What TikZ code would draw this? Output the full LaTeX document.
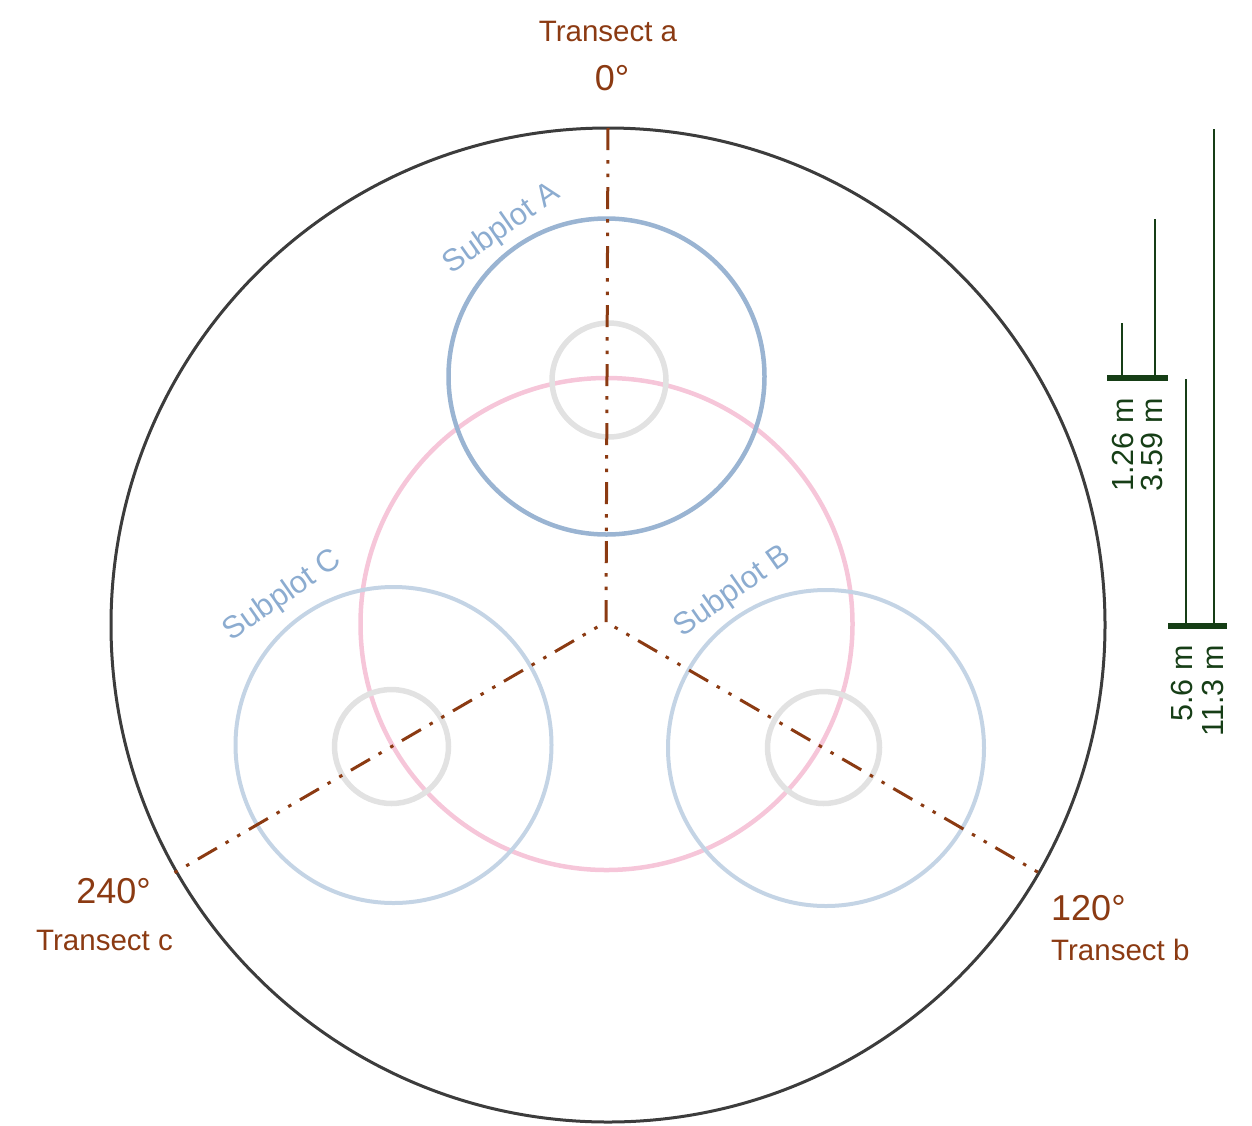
\documentclass[tikz,border=0pt]{standalone}
\usepackage{fontspec}
\setmainfont{Liberation Sans}
\definecolor{brn}{RGB}{139,58,18}
\definecolor{grn}{RGB}{22,62,22}
\definecolor{bluA}{RGB}{154,180,210}
\definecolor{bluB}{RGB}{196,212,229}
\definecolor{bluT}{RGB}{140,172,208}
\definecolor{pnk}{RGB}{246,198,217}
\definecolor{gry}{RGB}{226,226,226}
\definecolor{outerc}{RGB}{60,60,60}
\begin{document}
\begin{tikzpicture}[x=1pt,y=-1pt,
  transect/.style={brn, line width=3pt, dash pattern=on 22pt off 10pt on 3.5pt off 10pt on 3.5pt off 10pt},
  tlabel/.style={text=brn, font=\fontsize{29.5}{30}\selectfont, inner sep=0},
  deg/.style={text=brn, font=\fontsize{36}{38}\selectfont, inner sep=0},
  splabel/.style={text=bluT, font=\fontsize{31}{33}\selectfont, rotate=35, inner sep=0},
  bar/.style={grn, line width=2.4pt},
  tickbar/.style={grn, line width=6.5pt},
  sclabel/.style={text=grn, font=\fontsize{30.5}{32}\selectfont, rotate=90, anchor=base east, inner sep=0},
  pinkc/.style={pnk, line width=4.5pt},
  grayc/.style={gry, line width=5.5pt},
  subA/.style={bluA, line width=4.5pt},
  subBC/.style={bluB, line width=4pt},
]
\useasboundingbox (0,0) rectangle (1252,1125);

% centres
\coordinate (O) at (606,622);
\coordinate (plot) at (608,625);
\coordinate (cA) at (606.5,376.5);
\coordinate (cB) at (826,748);
\coordinate (cC) at (393.5,745);
\coordinate (gA) at (609,380);
\coordinate (gB) at (823.5,747.5);
\coordinate (gC) at (391.5,746.5);
\coordinate (ta) at (608,127);
\coordinate (tb) at (1041,874);
\coordinate (tc) at (174,873);

% circles
\draw[pinkc] (606.5,624) circle (246pt);
\draw[grayc] (gA) circle (57pt);
\draw[grayc] (gB) circle (56pt);
\draw[grayc] (gC) circle (57pt);
\draw[subA] (cA) circle (158pt);
\draw[subBC] (cB) circle (158pt);
\draw[subBC] (cC) circle (158pt);
\draw[outerc, line width=3pt] (plot) circle (497pt);

% transects
\draw[transect] (O) -- (ta);
\draw[transect, dash phase=22pt] (O) -- (tb);
\draw[transect, dash phase=22pt] (O) -- (tc);

% transect labels
\node[tlabel, anchor=base] (la) at (608,41) {Transect a};
\node[deg, anchor=base] (da) at (612,90) {0°};
\node[deg, anchor=base] (dc) at (113.5,903) {240°};
\node[tlabel, anchor=base] (lc) at (104.5,950) {Transect c};
\node[deg, anchor=base west] (db) at (1051,920) {120°};
\node[tlabel, anchor=base west] (lb) at (1051,960) {Transect b};

% subplot labels
\node[splabel] (sA) at (502,229) {Subplot A};
\node[splabel] (sB) at (733,592) {Subplot B};
\node[splabel] (sC) at (283,596) {Subplot C};

% scale bars
\coordinate (b1t) at (1122,323); \coordinate (b1b) at (1122,378);
\coordinate (b2t) at (1155,219); \coordinate (b2b) at (1155,378);
\coordinate (k1l) at (1107,378); \coordinate (k1r) at (1168,378);
\coordinate (b3t) at (1186,379); \coordinate (b3b) at (1186,625);
\coordinate (b4t) at (1214,129); \coordinate (b4b) at (1214,625);
\coordinate (k2l) at (1168,626); \coordinate (k2r) at (1227,626);
\draw[bar] (b1t) -- (b1b);
\draw[bar] (b2t) -- (b2b);
\draw[bar] (b3t) -- (b3b);
\draw[bar] (b4t) -- (b4b);
\draw[tickbar] (k1l) -- (k1r);
\draw[tickbar] (k2l) -- (k2r);
\node[sclabel] (s1) at (1133,398) {1.26 m};
\node[sclabel] (s2) at (1162,398) {3.59 m};
\node[sclabel] (s3) at (1192,645) {5.6 m};
\node[sclabel] (s4) at (1223,645) {11.3 m};
\end{tikzpicture}
\end{document}
